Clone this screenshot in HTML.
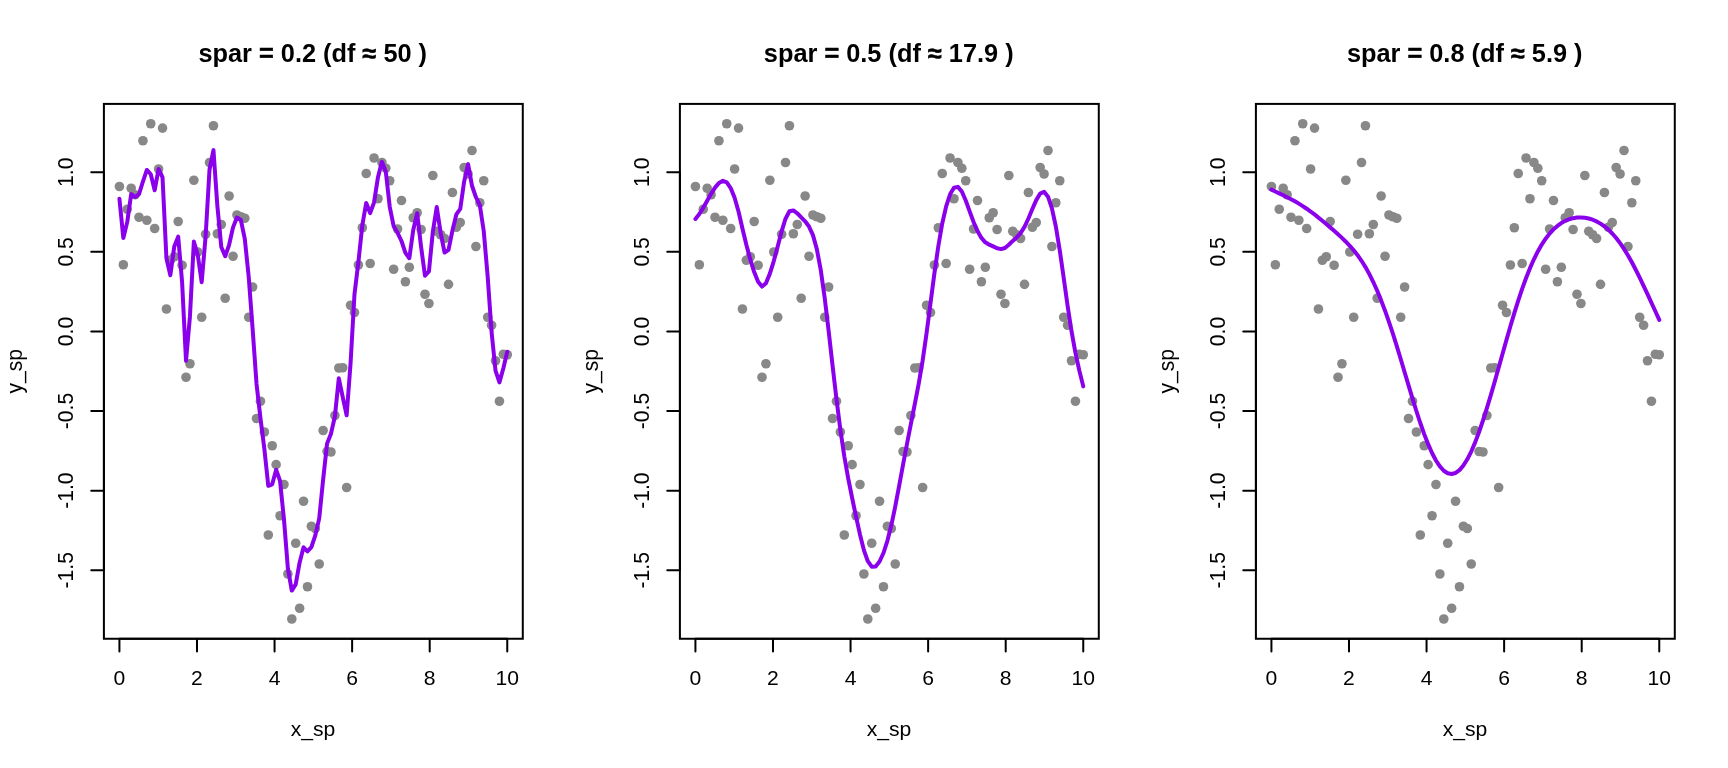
<!DOCTYPE html>
<html lang="en"><head><meta charset="utf-8"><title>Smoothing splines</title>
<style>html,body{margin:0;padding:0;background:#fff;}body{width:1728px;height:768px;overflow:hidden;}svg{display:block;will-change:transform;}text{font-family:"Liberation Sans",Arial,Helvetica,sans-serif;fill:#000;}</style></head><body>
<svg width="1728" height="768" viewBox="0 0 1728 768">
<rect width="1728" height="768" fill="#fff"/>
<g transform="translate(0,0)">
<g fill="#888888"><circle cx="119.42" cy="186.5" r="4.8"/><circle cx="123.34" cy="264.75" r="4.8"/><circle cx="127.26" cy="209.25" r="4.8"/><circle cx="131.18" cy="188.25" r="4.8"/><circle cx="135.09" cy="194.75" r="4.8"/><circle cx="139.01" cy="217.25" r="4.8"/><circle cx="142.93" cy="140.75" r="4.8"/><circle cx="146.85" cy="220.25" r="4.8"/><circle cx="150.76" cy="123.75" r="4.8"/><circle cx="154.68" cy="228.5" r="4.8"/><circle cx="158.6" cy="169" r="4.8"/><circle cx="162.52" cy="128.1" r="4.8"/><circle cx="166.43" cy="309" r="4.8"/><circle cx="170.35" cy="260.25" r="4.8"/><circle cx="174.27" cy="256.75" r="4.8"/><circle cx="178.19" cy="221.5" r="4.8"/><circle cx="182.11" cy="265.25" r="4.8"/><circle cx="186.02" cy="377.25" r="4.8"/><circle cx="189.94" cy="363.75" r="4.8"/><circle cx="193.86" cy="180.25" r="4.8"/><circle cx="197.78" cy="252" r="4.8"/><circle cx="201.69" cy="317.25" r="4.8"/><circle cx="205.61" cy="234.25" r="4.8"/><circle cx="209.53" cy="162.5" r="4.8"/><circle cx="213.45" cy="125.75" r="4.8"/><circle cx="217.36" cy="233.75" r="4.8"/><circle cx="221.28" cy="224.5" r="4.8"/><circle cx="225.2" cy="298.25" r="4.8"/><circle cx="229.12" cy="196" r="4.8"/><circle cx="233.03" cy="256.25" r="4.8"/><circle cx="236.95" cy="215" r="4.8"/><circle cx="240.87" cy="216.75" r="4.8"/><circle cx="244.79" cy="218.25" r="4.8"/><circle cx="248.7" cy="317.25" r="4.8"/><circle cx="252.62" cy="287" r="4.8"/><circle cx="256.54" cy="418.5" r="4.8"/><circle cx="260.46" cy="401.25" r="4.8"/><circle cx="264.37" cy="432" r="4.8"/><circle cx="268.29" cy="535" r="4.8"/><circle cx="272.21" cy="445.75" r="4.8"/><circle cx="276.13" cy="464.65" r="4.8"/><circle cx="280.04" cy="515.75" r="4.8"/><circle cx="283.96" cy="484.5" r="4.8"/><circle cx="287.88" cy="574" r="4.8"/><circle cx="291.8" cy="619" r="4.8"/><circle cx="295.71" cy="543.25" r="4.8"/><circle cx="299.63" cy="608.25" r="4.8"/><circle cx="303.55" cy="501.25" r="4.8"/><circle cx="307.47" cy="586.75" r="4.8"/><circle cx="311.39" cy="526.25" r="4.8"/><circle cx="315.3" cy="528.5" r="4.8"/><circle cx="319.22" cy="564" r="4.8"/><circle cx="323.14" cy="430.5" r="4.8"/><circle cx="327.06" cy="451.5" r="4.8"/><circle cx="330.97" cy="452" r="4.8"/><circle cx="334.89" cy="415.5" r="4.8"/><circle cx="338.81" cy="368" r="4.8"/><circle cx="342.73" cy="367.75" r="4.8"/><circle cx="346.64" cy="487.5" r="4.8"/><circle cx="350.56" cy="305.25" r="4.8"/><circle cx="354.48" cy="312.5" r="4.8"/><circle cx="358.4" cy="265" r="4.8"/><circle cx="362.31" cy="227.75" r="4.8"/><circle cx="366.23" cy="173.5" r="4.8"/><circle cx="370.15" cy="263.5" r="4.8"/><circle cx="374.07" cy="158" r="4.8"/><circle cx="377.98" cy="198.75" r="4.8"/><circle cx="381.9" cy="162.5" r="4.8"/><circle cx="385.82" cy="168.25" r="4.8"/><circle cx="389.74" cy="180.75" r="4.8"/><circle cx="393.65" cy="269.25" r="4.8"/><circle cx="397.57" cy="229" r="4.8"/><circle cx="401.49" cy="200.5" r="4.8"/><circle cx="405.41" cy="281.75" r="4.8"/><circle cx="409.32" cy="267.25" r="4.8"/><circle cx="413.24" cy="217.75" r="4.8"/><circle cx="417.16" cy="212.75" r="4.8"/><circle cx="421.08" cy="229.5" r="4.8"/><circle cx="424.99" cy="294.25" r="4.8"/><circle cx="428.91" cy="303.5" r="4.8"/><circle cx="432.83" cy="175.5" r="4.8"/><circle cx="436.75" cy="231.25" r="4.8"/><circle cx="440.67" cy="234.75" r="4.8"/><circle cx="444.58" cy="238.5" r="4.8"/><circle cx="448.5" cy="284.35" r="4.8"/><circle cx="452.42" cy="192.5" r="4.8"/><circle cx="456.34" cy="227.25" r="4.8"/><circle cx="460.25" cy="222.5" r="4.8"/><circle cx="464.17" cy="167.5" r="4.8"/><circle cx="468.09" cy="174" r="4.8"/><circle cx="472.01" cy="150.5" r="4.8"/><circle cx="475.92" cy="246.5" r="4.8"/><circle cx="479.84" cy="202.75" r="4.8"/><circle cx="483.76" cy="180.75" r="4.8"/><circle cx="487.68" cy="317.25" r="4.8"/><circle cx="491.59" cy="325.25" r="4.8"/><circle cx="495.51" cy="360.75" r="4.8"/><circle cx="499.43" cy="401.25" r="4.8"/><circle cx="503.35" cy="354.25" r="4.8"/><circle cx="507.26" cy="354.75" r="4.8"/></g>
<path d="M119.42,198.74 L123.34,238.04 L127.26,221.89 L131.18,194 L135.09,197.02 L139.01,194.19 L142.93,181.52 L146.85,169.97 L150.76,174.24 L154.68,190.22 L158.6,168.9 L162.52,177.31 L166.43,258.24 L170.35,275.18 L174.27,246.47 L178.19,236.67 L182.11,282.29 L186.02,360.78 L189.94,316.45 L193.86,241.55 L197.78,254.97 L201.69,282.2 L205.61,236.36 L209.53,169.49 L213.45,150.12 L217.36,205.82 L221.28,246.91 L225.2,256.25 L229.12,244.79 L233.03,227.37 L236.95,217.5 L240.87,220.04 L244.79,238.91 L248.7,276.65 L252.62,328.93 L256.54,383.93 L260.46,418.17 L264.37,448.92 L268.29,485.88 L272.21,484.28 L276.13,469.74 L280.04,480.95 L283.96,519.27 L287.88,568.45 L291.8,590.56 L295.71,584.39 L299.63,562.47 L303.55,547.28 L307.47,551.31 L311.39,547.2 L315.3,535.37 L319.22,518.4 L323.14,479.56 L327.06,443.62 L330.97,433.65 L334.89,416.45 L338.81,378.29 L342.73,397.16 L346.64,415.34 L350.56,363.39 L354.48,294.24 L358.4,261.96 L362.31,225.27 L366.23,202.92 L370.15,213.06 L374.07,202.4 L377.98,177.15 L381.9,161.82 L385.82,171.85 L389.74,206.79 L393.65,226.15 L397.57,232.83 L401.49,241 L405.41,252.87 L409.32,258.25 L413.24,229.94 L417.16,213.17 L421.08,246.79 L424.99,275.74 L428.91,271.43 L432.83,231.75 L436.75,207.07 L440.67,233.17 L444.58,252.52 L448.5,249.81 L452.42,230.65 L456.34,214.46 L460.25,208.96 L464.17,181.32 L468.09,164.13 L472.01,185.77 L475.92,197.24 L479.84,205.2 L483.76,231.23 L487.68,276.66 L491.59,332.05 L495.51,370.65 L499.43,382.38 L503.35,368.29 L507.26,351.66" fill="none" stroke="#8a00ec" stroke-width="4" stroke-linejoin="round" stroke-linecap="round"/>
<rect x="103.91" y="103.91" width="418.87" height="534.84" fill="none" stroke="#000" stroke-width="2"/>
<path d="M119.42,638.75 H507.26 M119.42,638.75 v12.67 M196.99,638.75 v12.67 M274.56,638.75 v12.67 M352.13,638.75 v12.67 M429.7,638.75 v12.67 M507.26,638.75 v12.67 M103.91,570.25 V172.25 M103.91,570.25 h-12.67 M103.91,490.65 h-12.67 M103.91,411.05 h-12.67 M103.91,331.45 h-12.67 M103.91,251.85 h-12.67 M103.91,172.25 h-12.67" fill="none" stroke="#000" stroke-width="2" stroke-linecap="round"/>
<text x="119.42" y="684.6" font-size="21.12" text-anchor="middle">0</text>
<text x="196.99" y="684.6" font-size="21.12" text-anchor="middle">2</text>
<text x="274.56" y="684.6" font-size="21.12" text-anchor="middle">4</text>
<text x="352.13" y="684.6" font-size="21.12" text-anchor="middle">6</text>
<text x="429.7" y="684.6" font-size="21.12" text-anchor="middle">8</text>
<text x="507.26" y="684.6" font-size="21.12" text-anchor="middle">10</text>
<text transform="translate(73.4,570.25) rotate(-90) scale(1,1.06)" font-size="21.12" text-anchor="middle">-1.5</text>
<text transform="translate(73.4,490.65) rotate(-90) scale(1,1.06)" font-size="21.12" text-anchor="middle">-1.0</text>
<text transform="translate(73.4,411.05) rotate(-90) scale(1,1.06)" font-size="21.12" text-anchor="middle">-0.5</text>
<text transform="translate(73.4,331.45) rotate(-90) scale(1,1.06)" font-size="21.12" text-anchor="middle">0.0</text>
<text transform="translate(73.4,251.85) rotate(-90) scale(1,1.06)" font-size="21.12" text-anchor="middle">0.5</text>
<text transform="translate(73.4,172.25) rotate(-90) scale(1,1.06)" font-size="21.12" text-anchor="middle">1.0</text>
<text x="312.94" y="735.6" font-size="21.12" text-anchor="middle">x_sp</text>
<text transform="translate(22.4,371.33) rotate(-90) scale(1,1.06)" font-size="21.12" text-anchor="middle">y_sp</text>
<text x="312.74" y="61.7" font-size="25.34" font-weight="bold" text-anchor="middle">spar <tspan stroke="#000" stroke-width="0.5">=</tspan> 0.2 (df <tspan stroke="#000" stroke-width="0.5">≈</tspan> 50 )</text>
</g>
<g transform="translate(576,0)">
<g fill="#888888"><circle cx="119.42" cy="186.5" r="4.8"/><circle cx="123.34" cy="264.75" r="4.8"/><circle cx="127.26" cy="209.25" r="4.8"/><circle cx="131.18" cy="188.25" r="4.8"/><circle cx="135.09" cy="194.75" r="4.8"/><circle cx="139.01" cy="217.25" r="4.8"/><circle cx="142.93" cy="140.75" r="4.8"/><circle cx="146.85" cy="220.25" r="4.8"/><circle cx="150.76" cy="123.75" r="4.8"/><circle cx="154.68" cy="228.5" r="4.8"/><circle cx="158.6" cy="169" r="4.8"/><circle cx="162.52" cy="128.1" r="4.8"/><circle cx="166.43" cy="309" r="4.8"/><circle cx="170.35" cy="260.25" r="4.8"/><circle cx="174.27" cy="256.75" r="4.8"/><circle cx="178.19" cy="221.5" r="4.8"/><circle cx="182.11" cy="265.25" r="4.8"/><circle cx="186.02" cy="377.25" r="4.8"/><circle cx="189.94" cy="363.75" r="4.8"/><circle cx="193.86" cy="180.25" r="4.8"/><circle cx="197.78" cy="252" r="4.8"/><circle cx="201.69" cy="317.25" r="4.8"/><circle cx="205.61" cy="234.25" r="4.8"/><circle cx="209.53" cy="162.5" r="4.8"/><circle cx="213.45" cy="125.75" r="4.8"/><circle cx="217.36" cy="233.75" r="4.8"/><circle cx="221.28" cy="224.5" r="4.8"/><circle cx="225.2" cy="298.25" r="4.8"/><circle cx="229.12" cy="196" r="4.8"/><circle cx="233.03" cy="256.25" r="4.8"/><circle cx="236.95" cy="215" r="4.8"/><circle cx="240.87" cy="216.75" r="4.8"/><circle cx="244.79" cy="218.25" r="4.8"/><circle cx="248.7" cy="317.25" r="4.8"/><circle cx="252.62" cy="287" r="4.8"/><circle cx="256.54" cy="418.5" r="4.8"/><circle cx="260.46" cy="401.25" r="4.8"/><circle cx="264.37" cy="432" r="4.8"/><circle cx="268.29" cy="535" r="4.8"/><circle cx="272.21" cy="445.75" r="4.8"/><circle cx="276.13" cy="464.65" r="4.8"/><circle cx="280.04" cy="515.75" r="4.8"/><circle cx="283.96" cy="484.5" r="4.8"/><circle cx="287.88" cy="574" r="4.8"/><circle cx="291.8" cy="619" r="4.8"/><circle cx="295.71" cy="543.25" r="4.8"/><circle cx="299.63" cy="608.25" r="4.8"/><circle cx="303.55" cy="501.25" r="4.8"/><circle cx="307.47" cy="586.75" r="4.8"/><circle cx="311.39" cy="526.25" r="4.8"/><circle cx="315.3" cy="528.5" r="4.8"/><circle cx="319.22" cy="564" r="4.8"/><circle cx="323.14" cy="430.5" r="4.8"/><circle cx="327.06" cy="451.5" r="4.8"/><circle cx="330.97" cy="452" r="4.8"/><circle cx="334.89" cy="415.5" r="4.8"/><circle cx="338.81" cy="368" r="4.8"/><circle cx="342.73" cy="367.75" r="4.8"/><circle cx="346.64" cy="487.5" r="4.8"/><circle cx="350.56" cy="305.25" r="4.8"/><circle cx="354.48" cy="312.5" r="4.8"/><circle cx="358.4" cy="265" r="4.8"/><circle cx="362.31" cy="227.75" r="4.8"/><circle cx="366.23" cy="173.5" r="4.8"/><circle cx="370.15" cy="263.5" r="4.8"/><circle cx="374.07" cy="158" r="4.8"/><circle cx="377.98" cy="198.75" r="4.8"/><circle cx="381.9" cy="162.5" r="4.8"/><circle cx="385.82" cy="168.25" r="4.8"/><circle cx="389.74" cy="180.75" r="4.8"/><circle cx="393.65" cy="269.25" r="4.8"/><circle cx="397.57" cy="229" r="4.8"/><circle cx="401.49" cy="200.5" r="4.8"/><circle cx="405.41" cy="281.75" r="4.8"/><circle cx="409.32" cy="267.25" r="4.8"/><circle cx="413.24" cy="217.75" r="4.8"/><circle cx="417.16" cy="212.75" r="4.8"/><circle cx="421.08" cy="229.5" r="4.8"/><circle cx="424.99" cy="294.25" r="4.8"/><circle cx="428.91" cy="303.5" r="4.8"/><circle cx="432.83" cy="175.5" r="4.8"/><circle cx="436.75" cy="231.25" r="4.8"/><circle cx="440.67" cy="234.75" r="4.8"/><circle cx="444.58" cy="238.5" r="4.8"/><circle cx="448.5" cy="284.35" r="4.8"/><circle cx="452.42" cy="192.5" r="4.8"/><circle cx="456.34" cy="227.25" r="4.8"/><circle cx="460.25" cy="222.5" r="4.8"/><circle cx="464.17" cy="167.5" r="4.8"/><circle cx="468.09" cy="174" r="4.8"/><circle cx="472.01" cy="150.5" r="4.8"/><circle cx="475.92" cy="246.5" r="4.8"/><circle cx="479.84" cy="202.75" r="4.8"/><circle cx="483.76" cy="180.75" r="4.8"/><circle cx="487.68" cy="317.25" r="4.8"/><circle cx="491.59" cy="325.25" r="4.8"/><circle cx="495.51" cy="360.75" r="4.8"/><circle cx="499.43" cy="401.25" r="4.8"/><circle cx="503.35" cy="354.25" r="4.8"/><circle cx="507.26" cy="354.75" r="4.8"/></g>
<path d="M119.42,219 L123.34,214.01 L127.26,207.71 L131.18,200.69 L135.09,193.83 L139.01,187.6 L142.93,182.93 L146.85,180.87 L150.76,182.34 L154.68,188.03 L158.6,197.74 L162.52,211.52 L166.43,228.5 L170.35,244.81 L174.27,259.44 L178.19,272.1 L182.11,281.79 L186.02,286.57 L189.94,283.15 L193.86,273.62 L197.78,261.07 L201.69,246.6 L205.61,231.39 L209.53,218.7 L213.45,211.29 L217.36,210.48 L221.28,213.26 L225.2,217.29 L229.12,221.3 L233.03,226.56 L236.95,235.1 L240.87,249.31 L244.79,270.24 L248.7,298.04 L252.62,330.7 L256.54,365.42 L260.46,399.01 L264.37,429.7 L268.29,456.26 L272.21,478.45 L276.13,498 L280.04,516.68 L283.96,534.41 L287.88,550.12 L291.8,561.21 L295.71,566.7 L299.63,566.45 L303.55,561.54 L307.47,553 L311.39,540.86 L315.3,525.3 L319.22,506.71 L323.14,485.98 L327.06,464.63 L330.97,444 L334.89,423.93 L338.81,404 L342.73,383.65 L346.64,360.64 L350.56,333.18 L354.48,303.18 L358.4,273.38 L362.31,246.22 L366.23,223.51 L370.15,206.4 L374.07,194.36 L377.98,187.7 L381.9,186.86 L385.82,191.48 L389.74,200.52 L393.65,211.32 L397.57,221.97 L401.49,231.05 L405.41,237.93 L409.32,242.31 L413.24,244.68 L417.16,246.39 L421.08,248.33 L424.99,249.12 L428.91,247.96 L432.83,244.76 L436.75,240.89 L440.67,237.44 L444.58,233.11 L448.5,226.91 L452.42,218.49 L456.34,209.02 L460.25,200.11 L464.17,193.59 L468.09,191.79 L472.01,196.69 L475.92,208.37 L479.84,226.49 L483.76,250.33 L487.68,277.7 L491.59,305.75 L495.51,331.2 L499.43,352.86 L503.35,370.63 L507.26,386.39" fill="none" stroke="#8a00ec" stroke-width="4" stroke-linejoin="round" stroke-linecap="round"/>
<rect x="103.91" y="103.91" width="418.87" height="534.84" fill="none" stroke="#000" stroke-width="2"/>
<path d="M119.42,638.75 H507.26 M119.42,638.75 v12.67 M196.99,638.75 v12.67 M274.56,638.75 v12.67 M352.13,638.75 v12.67 M429.7,638.75 v12.67 M507.26,638.75 v12.67 M103.91,570.25 V172.25 M103.91,570.25 h-12.67 M103.91,490.65 h-12.67 M103.91,411.05 h-12.67 M103.91,331.45 h-12.67 M103.91,251.85 h-12.67 M103.91,172.25 h-12.67" fill="none" stroke="#000" stroke-width="2" stroke-linecap="round"/>
<text x="119.42" y="684.6" font-size="21.12" text-anchor="middle">0</text>
<text x="196.99" y="684.6" font-size="21.12" text-anchor="middle">2</text>
<text x="274.56" y="684.6" font-size="21.12" text-anchor="middle">4</text>
<text x="352.13" y="684.6" font-size="21.12" text-anchor="middle">6</text>
<text x="429.7" y="684.6" font-size="21.12" text-anchor="middle">8</text>
<text x="507.26" y="684.6" font-size="21.12" text-anchor="middle">10</text>
<text transform="translate(73.4,570.25) rotate(-90) scale(1,1.06)" font-size="21.12" text-anchor="middle">-1.5</text>
<text transform="translate(73.4,490.65) rotate(-90) scale(1,1.06)" font-size="21.12" text-anchor="middle">-1.0</text>
<text transform="translate(73.4,411.05) rotate(-90) scale(1,1.06)" font-size="21.12" text-anchor="middle">-0.5</text>
<text transform="translate(73.4,331.45) rotate(-90) scale(1,1.06)" font-size="21.12" text-anchor="middle">0.0</text>
<text transform="translate(73.4,251.85) rotate(-90) scale(1,1.06)" font-size="21.12" text-anchor="middle">0.5</text>
<text transform="translate(73.4,172.25) rotate(-90) scale(1,1.06)" font-size="21.12" text-anchor="middle">1.0</text>
<text x="312.94" y="735.6" font-size="21.12" text-anchor="middle">x_sp</text>
<text transform="translate(22.4,371.33) rotate(-90) scale(1,1.06)" font-size="21.12" text-anchor="middle">y_sp</text>
<text x="312.74" y="61.7" font-size="25.34" font-weight="bold" text-anchor="middle">spar <tspan stroke="#000" stroke-width="0.5">=</tspan> 0.5 (df <tspan stroke="#000" stroke-width="0.5">≈</tspan> 17.9 )</text>
</g>
<g transform="translate(1152,0)">
<g fill="#888888"><circle cx="119.42" cy="186.5" r="4.8"/><circle cx="123.34" cy="264.75" r="4.8"/><circle cx="127.26" cy="209.25" r="4.8"/><circle cx="131.18" cy="188.25" r="4.8"/><circle cx="135.09" cy="194.75" r="4.8"/><circle cx="139.01" cy="217.25" r="4.8"/><circle cx="142.93" cy="140.75" r="4.8"/><circle cx="146.85" cy="220.25" r="4.8"/><circle cx="150.76" cy="123.75" r="4.8"/><circle cx="154.68" cy="228.5" r="4.8"/><circle cx="158.6" cy="169" r="4.8"/><circle cx="162.52" cy="128.1" r="4.8"/><circle cx="166.43" cy="309" r="4.8"/><circle cx="170.35" cy="260.25" r="4.8"/><circle cx="174.27" cy="256.75" r="4.8"/><circle cx="178.19" cy="221.5" r="4.8"/><circle cx="182.11" cy="265.25" r="4.8"/><circle cx="186.02" cy="377.25" r="4.8"/><circle cx="189.94" cy="363.75" r="4.8"/><circle cx="193.86" cy="180.25" r="4.8"/><circle cx="197.78" cy="252" r="4.8"/><circle cx="201.69" cy="317.25" r="4.8"/><circle cx="205.61" cy="234.25" r="4.8"/><circle cx="209.53" cy="162.5" r="4.8"/><circle cx="213.45" cy="125.75" r="4.8"/><circle cx="217.36" cy="233.75" r="4.8"/><circle cx="221.28" cy="224.5" r="4.8"/><circle cx="225.2" cy="298.25" r="4.8"/><circle cx="229.12" cy="196" r="4.8"/><circle cx="233.03" cy="256.25" r="4.8"/><circle cx="236.95" cy="215" r="4.8"/><circle cx="240.87" cy="216.75" r="4.8"/><circle cx="244.79" cy="218.25" r="4.8"/><circle cx="248.7" cy="317.25" r="4.8"/><circle cx="252.62" cy="287" r="4.8"/><circle cx="256.54" cy="418.5" r="4.8"/><circle cx="260.46" cy="401.25" r="4.8"/><circle cx="264.37" cy="432" r="4.8"/><circle cx="268.29" cy="535" r="4.8"/><circle cx="272.21" cy="445.75" r="4.8"/><circle cx="276.13" cy="464.65" r="4.8"/><circle cx="280.04" cy="515.75" r="4.8"/><circle cx="283.96" cy="484.5" r="4.8"/><circle cx="287.88" cy="574" r="4.8"/><circle cx="291.8" cy="619" r="4.8"/><circle cx="295.71" cy="543.25" r="4.8"/><circle cx="299.63" cy="608.25" r="4.8"/><circle cx="303.55" cy="501.25" r="4.8"/><circle cx="307.47" cy="586.75" r="4.8"/><circle cx="311.39" cy="526.25" r="4.8"/><circle cx="315.3" cy="528.5" r="4.8"/><circle cx="319.22" cy="564" r="4.8"/><circle cx="323.14" cy="430.5" r="4.8"/><circle cx="327.06" cy="451.5" r="4.8"/><circle cx="330.97" cy="452" r="4.8"/><circle cx="334.89" cy="415.5" r="4.8"/><circle cx="338.81" cy="368" r="4.8"/><circle cx="342.73" cy="367.75" r="4.8"/><circle cx="346.64" cy="487.5" r="4.8"/><circle cx="350.56" cy="305.25" r="4.8"/><circle cx="354.48" cy="312.5" r="4.8"/><circle cx="358.4" cy="265" r="4.8"/><circle cx="362.31" cy="227.75" r="4.8"/><circle cx="366.23" cy="173.5" r="4.8"/><circle cx="370.15" cy="263.5" r="4.8"/><circle cx="374.07" cy="158" r="4.8"/><circle cx="377.98" cy="198.75" r="4.8"/><circle cx="381.9" cy="162.5" r="4.8"/><circle cx="385.82" cy="168.25" r="4.8"/><circle cx="389.74" cy="180.75" r="4.8"/><circle cx="393.65" cy="269.25" r="4.8"/><circle cx="397.57" cy="229" r="4.8"/><circle cx="401.49" cy="200.5" r="4.8"/><circle cx="405.41" cy="281.75" r="4.8"/><circle cx="409.32" cy="267.25" r="4.8"/><circle cx="413.24" cy="217.75" r="4.8"/><circle cx="417.16" cy="212.75" r="4.8"/><circle cx="421.08" cy="229.5" r="4.8"/><circle cx="424.99" cy="294.25" r="4.8"/><circle cx="428.91" cy="303.5" r="4.8"/><circle cx="432.83" cy="175.5" r="4.8"/><circle cx="436.75" cy="231.25" r="4.8"/><circle cx="440.67" cy="234.75" r="4.8"/><circle cx="444.58" cy="238.5" r="4.8"/><circle cx="448.5" cy="284.35" r="4.8"/><circle cx="452.42" cy="192.5" r="4.8"/><circle cx="456.34" cy="227.25" r="4.8"/><circle cx="460.25" cy="222.5" r="4.8"/><circle cx="464.17" cy="167.5" r="4.8"/><circle cx="468.09" cy="174" r="4.8"/><circle cx="472.01" cy="150.5" r="4.8"/><circle cx="475.92" cy="246.5" r="4.8"/><circle cx="479.84" cy="202.75" r="4.8"/><circle cx="483.76" cy="180.75" r="4.8"/><circle cx="487.68" cy="317.25" r="4.8"/><circle cx="491.59" cy="325.25" r="4.8"/><circle cx="495.51" cy="360.75" r="4.8"/><circle cx="499.43" cy="401.25" r="4.8"/><circle cx="503.35" cy="354.25" r="4.8"/><circle cx="507.26" cy="354.75" r="4.8"/></g>
<path d="M119.42,189.61 L123.34,191.47 L127.26,193.34 L131.18,195.23 L135.09,197.17 L139.01,199.21 L142.93,201.35 L146.85,203.64 L150.76,206.09 L154.68,208.72 L158.6,211.51 L162.52,214.47 L166.43,217.56 L170.35,220.75 L174.27,224.02 L178.19,227.36 L182.11,230.78 L186.02,234.28 L189.94,237.89 L193.86,241.69 L197.78,245.78 L201.69,250.26 L205.61,255.22 L209.53,260.79 L213.45,267.08 L217.36,274.15 L221.28,282.05 L225.2,290.78 L229.12,300.34 L233.03,310.71 L236.95,321.86 L240.87,333.71 L244.79,346.15 L248.7,359.04 L252.62,372.2 L256.54,385.41 L260.46,398.43 L264.37,411.03 L268.29,423 L272.21,434.11 L276.13,444.17 L280.04,453.02 L283.96,460.49 L287.88,466.44 L291.8,470.73 L295.71,473.27 L299.63,474.01 L303.55,472.95 L307.47,470.1 L311.39,465.52 L315.3,459.3 L319.22,451.54 L323.14,442.38 L327.06,431.98 L330.97,420.52 L334.89,408.18 L338.81,395.15 L342.73,381.62 L346.64,367.76 L350.56,353.78 L354.48,339.87 L358.4,326.25 L362.31,313.11 L366.23,300.6 L370.15,288.88 L374.07,278.05 L377.98,268.17 L381.9,259.3 L385.82,251.43 L389.74,244.57 L393.65,238.65 L397.57,233.61 L401.49,229.38 L405.41,225.89 L409.32,223.08 L413.24,220.88 L417.16,219.25 L421.08,218.16 L424.99,217.56 L428.91,217.41 L432.83,217.72 L436.75,218.48 L440.67,219.71 L444.58,221.41 L448.5,223.62 L452.42,226.34 L456.34,229.62 L460.25,233.5 L464.17,237.99 L468.09,243.13 L472.01,248.92 L475.92,255.33 L479.84,262.3 L483.76,269.77 L487.68,277.65 L491.59,285.84 L495.51,294.22 L499.43,302.72 L503.35,311.26 L507.26,319.81" fill="none" stroke="#8a00ec" stroke-width="4" stroke-linejoin="round" stroke-linecap="round"/>
<rect x="103.91" y="103.91" width="418.87" height="534.84" fill="none" stroke="#000" stroke-width="2"/>
<path d="M119.42,638.75 H507.26 M119.42,638.75 v12.67 M196.99,638.75 v12.67 M274.56,638.75 v12.67 M352.13,638.75 v12.67 M429.7,638.75 v12.67 M507.26,638.75 v12.67 M103.91,570.25 V172.25 M103.91,570.25 h-12.67 M103.91,490.65 h-12.67 M103.91,411.05 h-12.67 M103.91,331.45 h-12.67 M103.91,251.85 h-12.67 M103.91,172.25 h-12.67" fill="none" stroke="#000" stroke-width="2" stroke-linecap="round"/>
<text x="119.42" y="684.6" font-size="21.12" text-anchor="middle">0</text>
<text x="196.99" y="684.6" font-size="21.12" text-anchor="middle">2</text>
<text x="274.56" y="684.6" font-size="21.12" text-anchor="middle">4</text>
<text x="352.13" y="684.6" font-size="21.12" text-anchor="middle">6</text>
<text x="429.7" y="684.6" font-size="21.12" text-anchor="middle">8</text>
<text x="507.26" y="684.6" font-size="21.12" text-anchor="middle">10</text>
<text transform="translate(73.4,570.25) rotate(-90) scale(1,1.06)" font-size="21.12" text-anchor="middle">-1.5</text>
<text transform="translate(73.4,490.65) rotate(-90) scale(1,1.06)" font-size="21.12" text-anchor="middle">-1.0</text>
<text transform="translate(73.4,411.05) rotate(-90) scale(1,1.06)" font-size="21.12" text-anchor="middle">-0.5</text>
<text transform="translate(73.4,331.45) rotate(-90) scale(1,1.06)" font-size="21.12" text-anchor="middle">0.0</text>
<text transform="translate(73.4,251.85) rotate(-90) scale(1,1.06)" font-size="21.12" text-anchor="middle">0.5</text>
<text transform="translate(73.4,172.25) rotate(-90) scale(1,1.06)" font-size="21.12" text-anchor="middle">1.0</text>
<text x="312.94" y="735.6" font-size="21.12" text-anchor="middle">x_sp</text>
<text transform="translate(22.4,371.33) rotate(-90) scale(1,1.06)" font-size="21.12" text-anchor="middle">y_sp</text>
<text x="312.74" y="61.7" font-size="25.34" font-weight="bold" text-anchor="middle">spar <tspan stroke="#000" stroke-width="0.5">=</tspan> 0.8 (df <tspan stroke="#000" stroke-width="0.5">≈</tspan> 5.9 )</text>
</g>
</svg></body></html>
